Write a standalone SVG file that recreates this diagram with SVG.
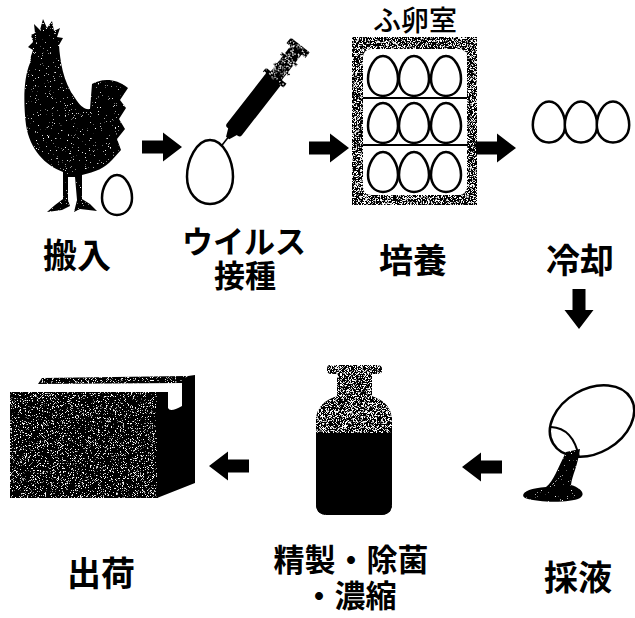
<svg xmlns="http://www.w3.org/2000/svg" xmlns:xlink="http://www.w3.org/1999/xlink" width="635" height="618" viewBox="0 0 635 618">
  <defs>
    <style>
      .label { font-family: "Noto Sans CJK JP", "Noto Sans CJK SC", sans-serif; font-weight: 700; font-size: 34px; fill: #000; text-anchor: middle; }
      .stacked { font-family: "Liberation Sans", "Noto Sans CJK JP", "Noto Sans CJK SC", sans-serif; font-weight: 700; fill: #000; text-anchor: middle; }
      .caption { font-family: "Noto Sans CJK JP", "Noto Sans CJK SC", sans-serif; font-weight: 500; font-size: 28px; fill: #000; text-anchor: middle; }
      .shell { fill: #fff; stroke: #000; stroke-width: 2.5; }
      .solid { fill: #000; }
      .line { stroke: #000; stroke-width: 2; fill: none; }
    </style>

    <!-- halftone speckle: white dots scattered over a dark fill -->
    <filter id="grainLight">
      <feTurbulence type="fractalNoise" baseFrequency="1.4" numOctaves="2" seed="4" result="noise"/>
      <feColorMatrix in="noise" type="matrix" values="0 0 0 0 1  0 0 0 0 1  0 0 0 0 1  10 0 0 0 -7.0" result="specks"/>
      <feComposite in="specks" in2="SourceAlpha" operator="in" result="clipped"/>
      <feMerge><feMergeNode in="SourceGraphic"/><feMergeNode in="clipped"/></feMerge>
    </filter>
    <filter id="grainMid">
      <feTurbulence type="fractalNoise" baseFrequency="1.4" numOctaves="2" seed="9" result="noise"/>
      <feColorMatrix in="noise" type="matrix" values="0 0 0 0 1  0 0 0 0 1  0 0 0 0 1  10 0 0 0 -6.0" result="specks"/>
      <feComposite in="specks" in2="SourceAlpha" operator="in" result="clipped"/>
      <feMerge><feMergeNode in="SourceGraphic"/><feMergeNode in="clipped"/></feMerge>
    </filter>
    <filter id="grainHalf">
      <feTurbulence type="fractalNoise" baseFrequency="1.4" numOctaves="2" seed="2" result="noise"/>
      <feColorMatrix in="noise" type="matrix" values="0 0 0 0 1  0 0 0 0 1  0 0 0 0 1  10 0 0 0 -5.1" result="specks"/>
      <feComposite in="specks" in2="SourceAlpha" operator="in" result="clipped"/>
      <feMerge><feMergeNode in="SourceGraphic"/><feMergeNode in="clipped"/></feMerge>
    </filter>

    <!-- egg outlines, centred on the origin -->
    <path id="egg" class="shell" d="M0,-20 C9,-20 15,-7 15,3 C15,13 8.3,20 0,20 C-8.3,20 -15,13 -15,3 C-15,-7 -9,-20 0,-20 Z"/>
    <path id="eggWide" class="shell" d="M0,-20.5 C9.8,-20.5 16.2,-7 16.2,3 C16.2,13.5 9,20.5 0,20.5 C-9,20.5 -16.2,13.5 -16.2,3 C-16.2,-7 -9.8,-20.5 0,-20.5 Z"/>
    <path id="eggLarge" class="shell" d="M0,-32 C13.8,-32 23,-11.2 23,4.8 C23,20.8 12.7,32 0,32 C-12.7,32 -23,20.8 -23,4.8 C-23,-11.2 -13.8,-32 0,-32 Z"/>

    <!-- block arrow pointing along +x, tail at the origin -->
    <path id="arrow" d="M0,-6.5 L21,-6.5 L21,-14.5 L40,0 L21,14.5 L21,6.5 L0,6.5 Z" fill="#000"/>
  </defs>

  <rect width="635" height="618" fill="#fff"/>

  <!-- 搬入: rooster and egg -->
  <g id="step-hannyu">
    <path class="solid" filter="url(#grainLight)" d="M28,47 L33,42 L31,35 L35,33 L34,24 L40,30 L43,19 L47,28 L52,21 L54,31 L60,28 L57,37 L63,38 L59,45
      C60,60 63,82 75,98 C80,106 85,110 90,109 L92,84 C100,79 115,77 128,88 L120,100 L126,108 L119,119 L125,129 L117,139 L121,150 L112,160
      C105,168 95,172 82,175 L82,199 L90,204 L97,211 L80,209 L74,212 L77,200 L75,177 L68,177 L68,200 L70,206 L62,210 L47,212 L55,205 L63,199 L63,172
      C45,165 30,150 26,125 C23,100 24,77 30,63 L31,56 L33,50 Z"/>
    <use xlink:href="#egg" href="#egg" x="117" y="195"/>
    <text class="label" x="77" y="268">搬入</text>
  </g>

  <!-- ウイルス接種: syringe injecting an egg -->
  <g id="step-inoculation">
    <g transform="translate(219,149) rotate(-52)">
      <line x1="0" y1="0" x2="15" y2="0" stroke="#000" stroke-width="1.6"/>
      <path class="solid" d="M14,-2 L23,-6 L23,6 L14,2 Z"/>
      <rect class="solid" x="22" y="-9.5" width="68" height="19" rx="3"/>
      <rect class="solid" filter="url(#grainMid)" x="88" y="-13" width="5" height="26"/>
      <rect class="solid" filter="url(#grainMid)" x="92" y="-7" width="34" height="14"/>
      <rect class="solid" filter="url(#grainMid)" x="100" y="-10" width="3" height="20"/>
      <rect class="solid" filter="url(#grainMid)" x="112" y="-10" width="3" height="20"/>
      <rect class="solid" filter="url(#grainMid)" x="125" y="-12" width="7" height="24"/>
    </g>
    <use xlink:href="#eggLarge" href="#eggLarge" x="210" y="172"/>
    <text class="stacked" style="font-size:31px"><tspan x="244" y="253">ウイルス</tspan><tspan x="245" y="287">接種</tspan></text>
  </g>

  <!-- 培養: incubator with three shelves of eggs -->
  <g id="step-incubation">
    <text class="caption" x="415" y="31">ふ卵室</text>
    <rect class="solid" filter="url(#grainHalf)" x="352" y="37" width="125" height="168"/>
    <rect x="363" y="49" width="104" height="146" rx="8" fill="#fff"/>
    <line class="line" x1="363" y1="98" x2="467" y2="98"/>
    <line class="line" x1="363" y1="145" x2="467" y2="145"/>
    <use xlink:href="#egg" href="#egg" x="383" y="76"/>
    <use xlink:href="#egg" href="#egg" x="414" y="76"/>
    <use xlink:href="#egg" href="#egg" x="446" y="76"/>
    <use xlink:href="#egg" href="#egg" x="383" y="123"/>
    <use xlink:href="#egg" href="#egg" x="414" y="123"/>
    <use xlink:href="#egg" href="#egg" x="446" y="123"/>
    <use xlink:href="#egg" href="#egg" x="383" y="172"/>
    <use xlink:href="#egg" href="#egg" x="414" y="172"/>
    <use xlink:href="#egg" href="#egg" x="446" y="172"/>
    <text class="label" x="413" y="273">培養</text>
  </g>

  <!-- 冷却: row of eggs -->
  <g id="step-cooling">
    <use xlink:href="#eggWide" href="#eggWide" x="549" y="122"/>
    <use xlink:href="#eggWide" href="#eggWide" x="581" y="122"/>
    <use xlink:href="#eggWide" href="#eggWide" x="613" y="122"/>
    <text class="label" x="580" y="273">冷却</text>
  </g>

  <!-- 採液: opened egg pouring its fluid -->
  <g id="step-harvest">
    <ellipse class="shell" cx="592" cy="421" rx="45" ry="32" transform="rotate(-30 592 421)"/>
    <path class="line" stroke-width="2.5" d="M551,427 Q573,428 579,457"/>
    <path class="solid" filter="url(#grainLight)" d="M566,452 L580,449 C578,465 572,476 571,485 C581,488 586,494 580,498 C570,503 540,503 525,498 C519,494 528,488 546,487 C553,482 558,468 566,452 Z"/>
    <text class="label" x="578" y="590">採液</text>
  </g>

  <!-- 精製・除菌・濃縮: bottle of product -->
  <g id="step-purification">
    <path class="solid" filter="url(#grainHalf)" d="M330,365 L378,365 Q382,365 382,369 L382,371 Q382,374 377,374 L372,374 L372,396 Q390,402 392,418 L392,504 Q392,515 381,515 L327,515 Q316,515 316,504 L316,418 Q318,402 337,396 L337,374 L331,374 Q327,374 327,371 L327,369 Q327,365 330,365 Z"/>
    <path class="solid" d="M316,433 L392,433 L392,504 Q392,515 381,515 L327,515 Q316,515 316,504 Z"/>
    <text class="stacked" style="font-size:31px"><tspan x="351" y="571">精製・除菌</tspan><tspan x="350" y="607">・濃縮</tspan></text>
  </g>

  <!-- 出荷: shipping carton -->
  <g id="step-shipping">
    <path class="solid" filter="url(#grainMid)" d="M38,384 L42,378 L186,376 L184,383 Z"/>
    <rect class="solid" filter="url(#grainMid)" x="10" y="392" width="148" height="106"/>
    <path class="solid" d="M157,392 L168,392 L168,408 Q170,413 182,406 L182,380 L188,376 L195,375 L195,483 L157,498 Z"/>
    <text class="label" x="101" y="586">出荷</text>
  </g>

  <!-- flow arrows between the steps -->
  <g id="connectors">
    <use xlink:href="#arrow" href="#arrow" transform="translate(142,147)"/>
    <use xlink:href="#arrow" href="#arrow" transform="translate(309,148)"/>
    <use xlink:href="#arrow" href="#arrow" transform="translate(476,148)"/>
    <use xlink:href="#arrow" href="#arrow" transform="translate(579,289) rotate(90)"/>
    <use xlink:href="#arrow" href="#arrow" transform="translate(502,467) rotate(180)"/>
    <use xlink:href="#arrow" href="#arrow" transform="translate(249,466) rotate(180)"/>
  </g>
</svg>
